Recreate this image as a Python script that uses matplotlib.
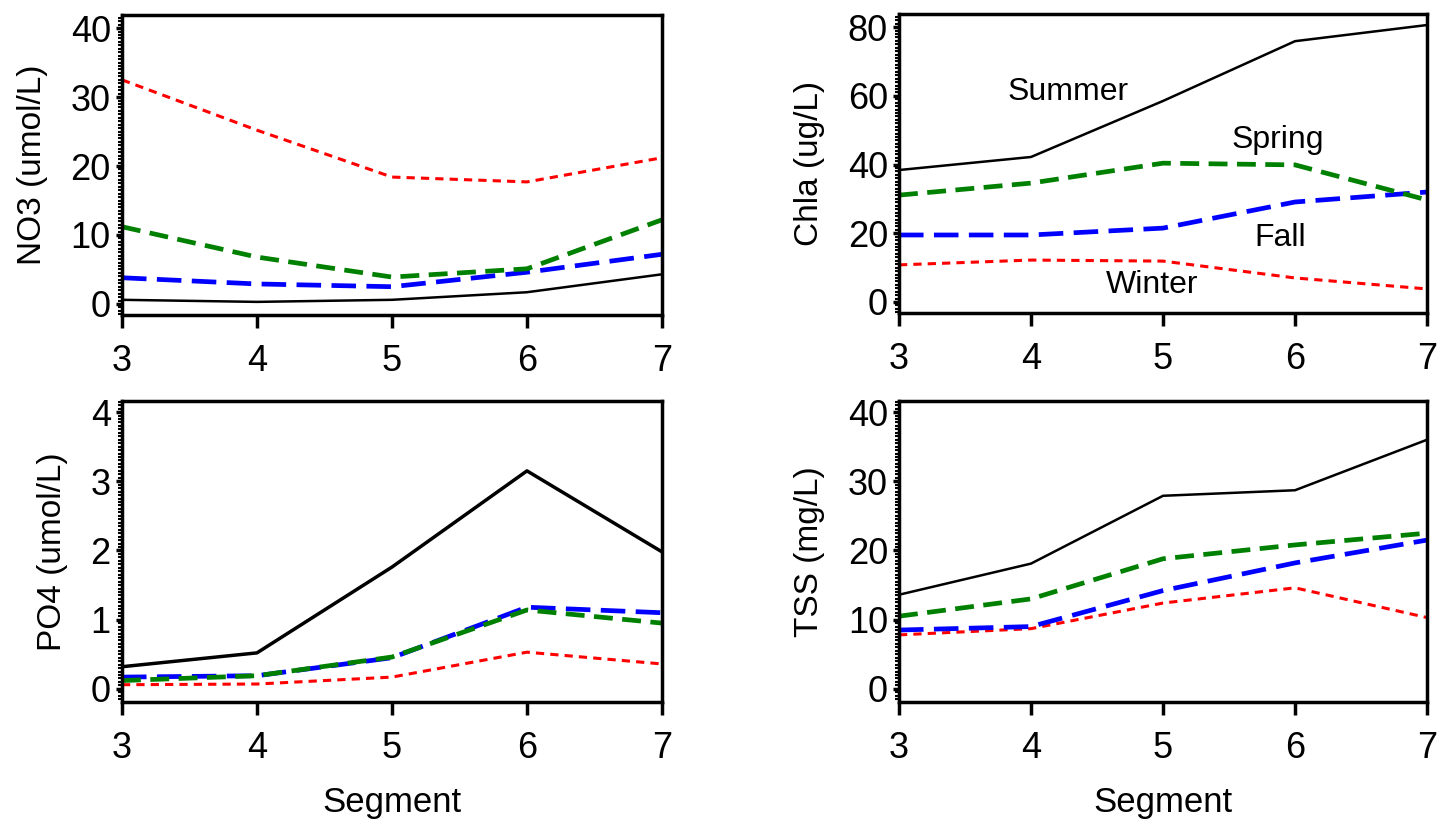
import matplotlib.pyplot as plt
from matplotlib.ticker import MultipleLocator

plt.rcParams['font.family'] = ['Liberation Sans', 'DejaVu Sans']

segments = [3, 4, 5, 6, 7]

# NO3 (umol/L)
no3_summer = [0.6, 0.3, 0.6, 1.7, 4.3]
no3_spring = [11.2, 6.8, 3.9, 5.1, 12.2]
no3_fall = [3.8, 2.9, 2.5, 4.6, 7.2]
no3_winter = [32.5, 25.2, 18.4, 17.7, 21.2]

# Chla (ug/L)
chla_summer = [38.4, 42.2, 58.5, 75.9, 80.6]
chla_spring = [31.1, 34.6, 40.4, 39.9, 29.7]
chla_fall = [19.5, 19.5, 21.5, 29.1, 32.0]
chla_winter = [10.8, 12.2, 11.9, 7.0, 3.8]

# PO4 (umol/L)
po4_summer = [0.32, 0.52, 1.76, 3.15, 1.98]
po4_spring = [0.12, 0.19, 0.46, 1.14, 0.95]
po4_fall = [0.17, 0.19, 0.45, 1.18, 1.10]
po4_winter = [0.06, 0.07, 0.17, 0.53, 0.36]

# TSS (mg/L)
tss_summer = [13.6, 18.1, 27.9, 28.7, 36.0]
tss_spring = [10.5, 13.0, 18.8, 20.8, 22.5]
tss_fall = [8.5, 9.0, 14.2, 18.2, 21.5]
tss_winter = [7.8, 8.7, 12.4, 14.6, 10.3]

fig = plt.figure(figsize=(14.4, 8.3), dpi=100)

ax_no3 = fig.add_axes([0.0847, 0.6205, 0.3750, 0.3614])
ax_chla = fig.add_axes([0.6243, 0.6229, 0.3667, 0.3602])
ax_po4 = fig.add_axes([0.0847, 0.1542, 0.3750, 0.3627])
ax_tss = fig.add_axes([0.6243, 0.1542, 0.3667, 0.3627])


def draw_panel(ax, summer, spring, fall, winter, ylabel, ylim, major, minor, summer_lw=1.8):
    ax.plot(segments, winter, color='red', lw=2.2, dashes=(2.7, 2.0))
    ax.plot(segments, fall, color='blue', lw=3.4, dashes=(5.2, 2.2))
    ax.plot(segments, spring, color='green', lw=3.4, dashes=(4.0, 2.0))
    ax.plot(segments, summer, color='black', lw=summer_lw)
    ax.set_xlim(3, 7)
    ax.set_ylim(*ylim)
    ax.set_xticks(segments)
    ax.yaxis.set_major_locator(MultipleLocator(major))
    ax.yaxis.set_minor_locator(MultipleLocator(minor))
    ax.set_ylabel(ylabel, fontsize=24, labelpad=16)
    ax.tick_params(axis='both', labelsize=26, width=2.5, length=4, pad=4, direction='out')
    ax.tick_params(axis='x', length=9, pad=12)
    ax.tick_params(axis='y', which='minor', length=3, width=1.5)
    ax.tick_params(axis='x', which='minor', bottom=False)
    for sp in ax.spines.values():
        sp.set_linewidth(2.5)


draw_panel(ax_no3, no3_summer, no3_spring, no3_fall, no3_winter,
           'NO3 (umol/L)', (-1.6, 41.9), 10, 0.5)
draw_panel(ax_chla, chla_summer, chla_spring, chla_fall, chla_winter,
           'Chla (ug/L)', (-3.2, 83.8), 20, 1)
draw_panel(ax_po4, po4_summer, po4_spring, po4_fall, po4_winter,
           'PO4 (umol/L)', (-0.19, 4.16), 1, 0.05, summer_lw=2.5)
draw_panel(ax_tss, tss_summer, tss_spring, tss_fall, tss_winter,
           'TSS (mg/L)', (-1.9, 41.6), 10, 0.5)

# season labels
ax_chla.text(4.28, 61.1, 'Summer', fontsize=23, ha='center', va='center')
ax_chla.text(5.87, 47.0, 'Spring', fontsize=23, ha='center', va='center')
ax_chla.text(5.89, 18.6, 'Fall', fontsize=23, ha='center', va='center')
ax_chla.text(4.92, 4.9, 'Winter', fontsize=23, ha='center', va='center')

ax_po4.set_xlabel('Segment', fontsize=25, labelpad=14)
ax_tss.set_xlabel('Segment', fontsize=25, labelpad=14)

fig.savefig('out.png', dpi=100)
